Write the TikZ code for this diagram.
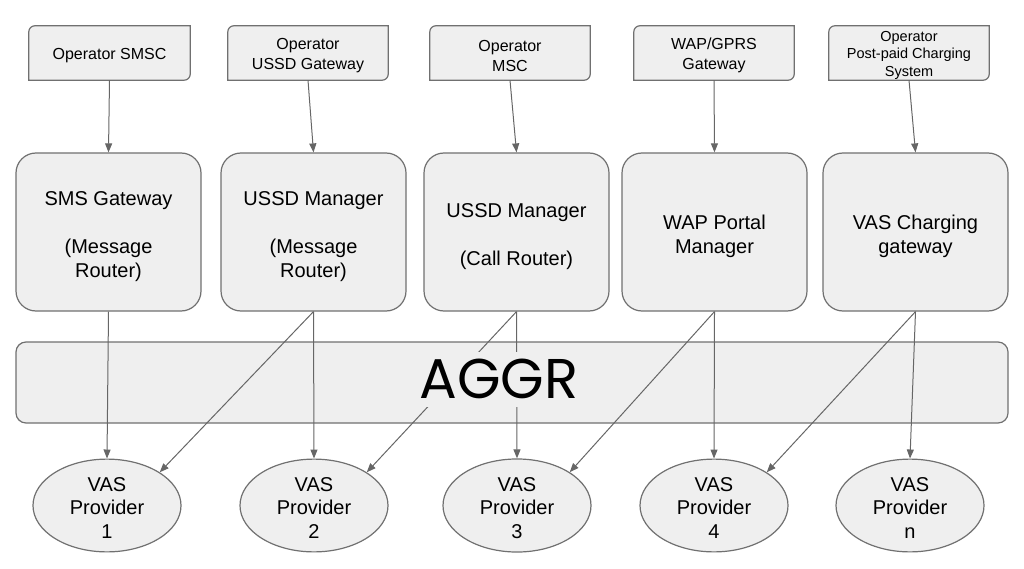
\documentclass[tikz,border=0pt]{standalone}
\usepackage{fontspec}
\setmainfont{Liberation Sans}
\newfontfamily\aggrfont{Poppins}
\usetikzlibrary{arrows.meta,shapes.geometric,backgrounds}
\definecolor{boxfill}{HTML}{EFEFEF}
\definecolor{boxline}{HTML}{707070}
\definecolor{connc}{HTML}{666666}
\newcommand\tstrut{\rule{0pt}{16.7pt}}
\newcommand\sstrut{\rule{0pt}{14.8pt}}
\newcommand\mstrut{\rule{0pt}{22.6pt}}
\newcommand\vstrut{\rule{0pt}{18.6pt}}
\tikzset{
  topbox/.style={minimum width=160pt, minimum height=54pt, inner sep=0pt, align=center, font=\fontsize{16}{20}\selectfont},
  topshape/.style={draw=boxline, fill=boxfill, line width=1.2pt},
  midbox/.style={draw=boxline, fill=boxfill, line width=1.2pt, rounded corners=20pt, minimum width=185pt, minimum height=158pt, inner sep=0pt, align=center, font=\fontsize{20}{24}\selectfont},
  aggrbox/.style={draw=boxline, fill=boxfill, line width=1.2pt, rounded corners=10pt, minimum width=992pt, minimum height=81pt, inner sep=0pt},
  vas/.style={ellipse, draw=boxline, fill=boxfill, line width=1.2pt, minimum width=148pt, minimum height=81pt, inner sep=0pt, align=center, font=\fontsize{20}{23.5}\selectfont},
  conn/.style={draw=connc, line width=1pt, -{Triangle[length=9pt,width=7pt]}},
}
\newcommand\topshape[1]{%
  \draw[topshape] (#1.south west) -- ([yshift=-6pt]#1.north west)
    arc[start angle=180, end angle=90, radius=6pt] -- (#1.north east)
    -- ([yshift=6pt]#1.south east) arc[start angle=0, end angle=-90, radius=6pt]
    -- cycle;}
\begin{document}
\begin{tikzpicture}[x=1pt, y=-1pt]
\useasboundingbox (0,0) rectangle (1024,569);
% AGGR band
\node[aggrbox] (aggr) at (512,382.5) {};
% top boxes
\node[topbox, minimum width=161pt] (t1) at (109.5,53) {\tstrut Operator SMSC};
\node[topbox] (t2) at (308,53) {\tstrut Operator\\USSD Gateway};
\node[topbox] (t3) at (510,53) {\tstrut Operator\\MSC};
\node[topbox] (t4) at (714,53) {\tstrut WAP/GPRS\\Gateway};
\node[topbox, font=\fontsize{14.5}{17.5}\selectfont] (t5) at (909,53) {\sstrut Operator\\Post-paid Charging\\System};
\begin{pgfonlayer}{background}
\topshape{t1}\topshape{t2}\topshape{t3}\topshape{t4}\topshape{t5}
\end{pgfonlayer}
% middle boxes
\node[midbox] (m1) at (108.5,232) {\mstrut SMS Gateway\\[24pt](Message\\Router)};
\node[midbox] (m2) at (313.5,232) {\mstrut USSD Manager\\[24pt](Message\\Router)};
\node[midbox] (m3) at (516.5,232) {\mstrut USSD Manager\\[24pt](Call Router)};
\node[midbox] (m4) at (714.5,232) {\mstrut WAP Portal\\Manager};
\node[midbox] (m5) at (915.5,232) {\mstrut VAS Charging\\gateway};
% providers
\node[vas] (v1) at (107,505.5) {\vstrut VAS\\Provider\\1};
\node[vas] (v2) at (314,505.5) {\vstrut VAS\\Provider\\2};
\node[vas] (v3) at (517,505.5) {\vstrut VAS\\Provider\\3};
\node[vas] (v4) at (714,505.5) {\vstrut VAS\\Provider\\4};
\node[vas] (vn) at (910,505.5) {\vstrut VAS\\Provider\\n};
% top connectors
\draw[conn] (t1.south) -- (m1.north);
\draw[conn] (t2.south) -- (m2.north);
\draw[conn] (t3.south) -- (m3.north);
\draw[conn] (t4.south) -- (m4.north);
\draw[conn] (t5.south) -- (m5.north);
% bottom connectors
\draw[conn] (m1.south) -- (v1.north);
\draw[conn] (m2.south) -- (v2.north);
\draw[conn] (m2.south) -- (v1.north east);
\draw[conn] (m3.south) -- (v3.north);
\draw[conn] (m3.south) -- (v2.north east);
\draw[conn] (m4.south) -- (v4.north);
\draw[conn] (m4.south) -- (v3.north east);
\draw[conn] (m5.south) -- (vn.north);
\draw[conn] (m5.south) -- (v4.north east);
% AGGR label, covering the lines behind it
\node[fill=boxfill, inner sep=0pt, minimum width=160pt, minimum height=55pt, font=\aggrfont\fontsize{56}{60}\selectfont] (aggrtext) at (499,379) {AGGR};
\end{tikzpicture}
\end{document}
